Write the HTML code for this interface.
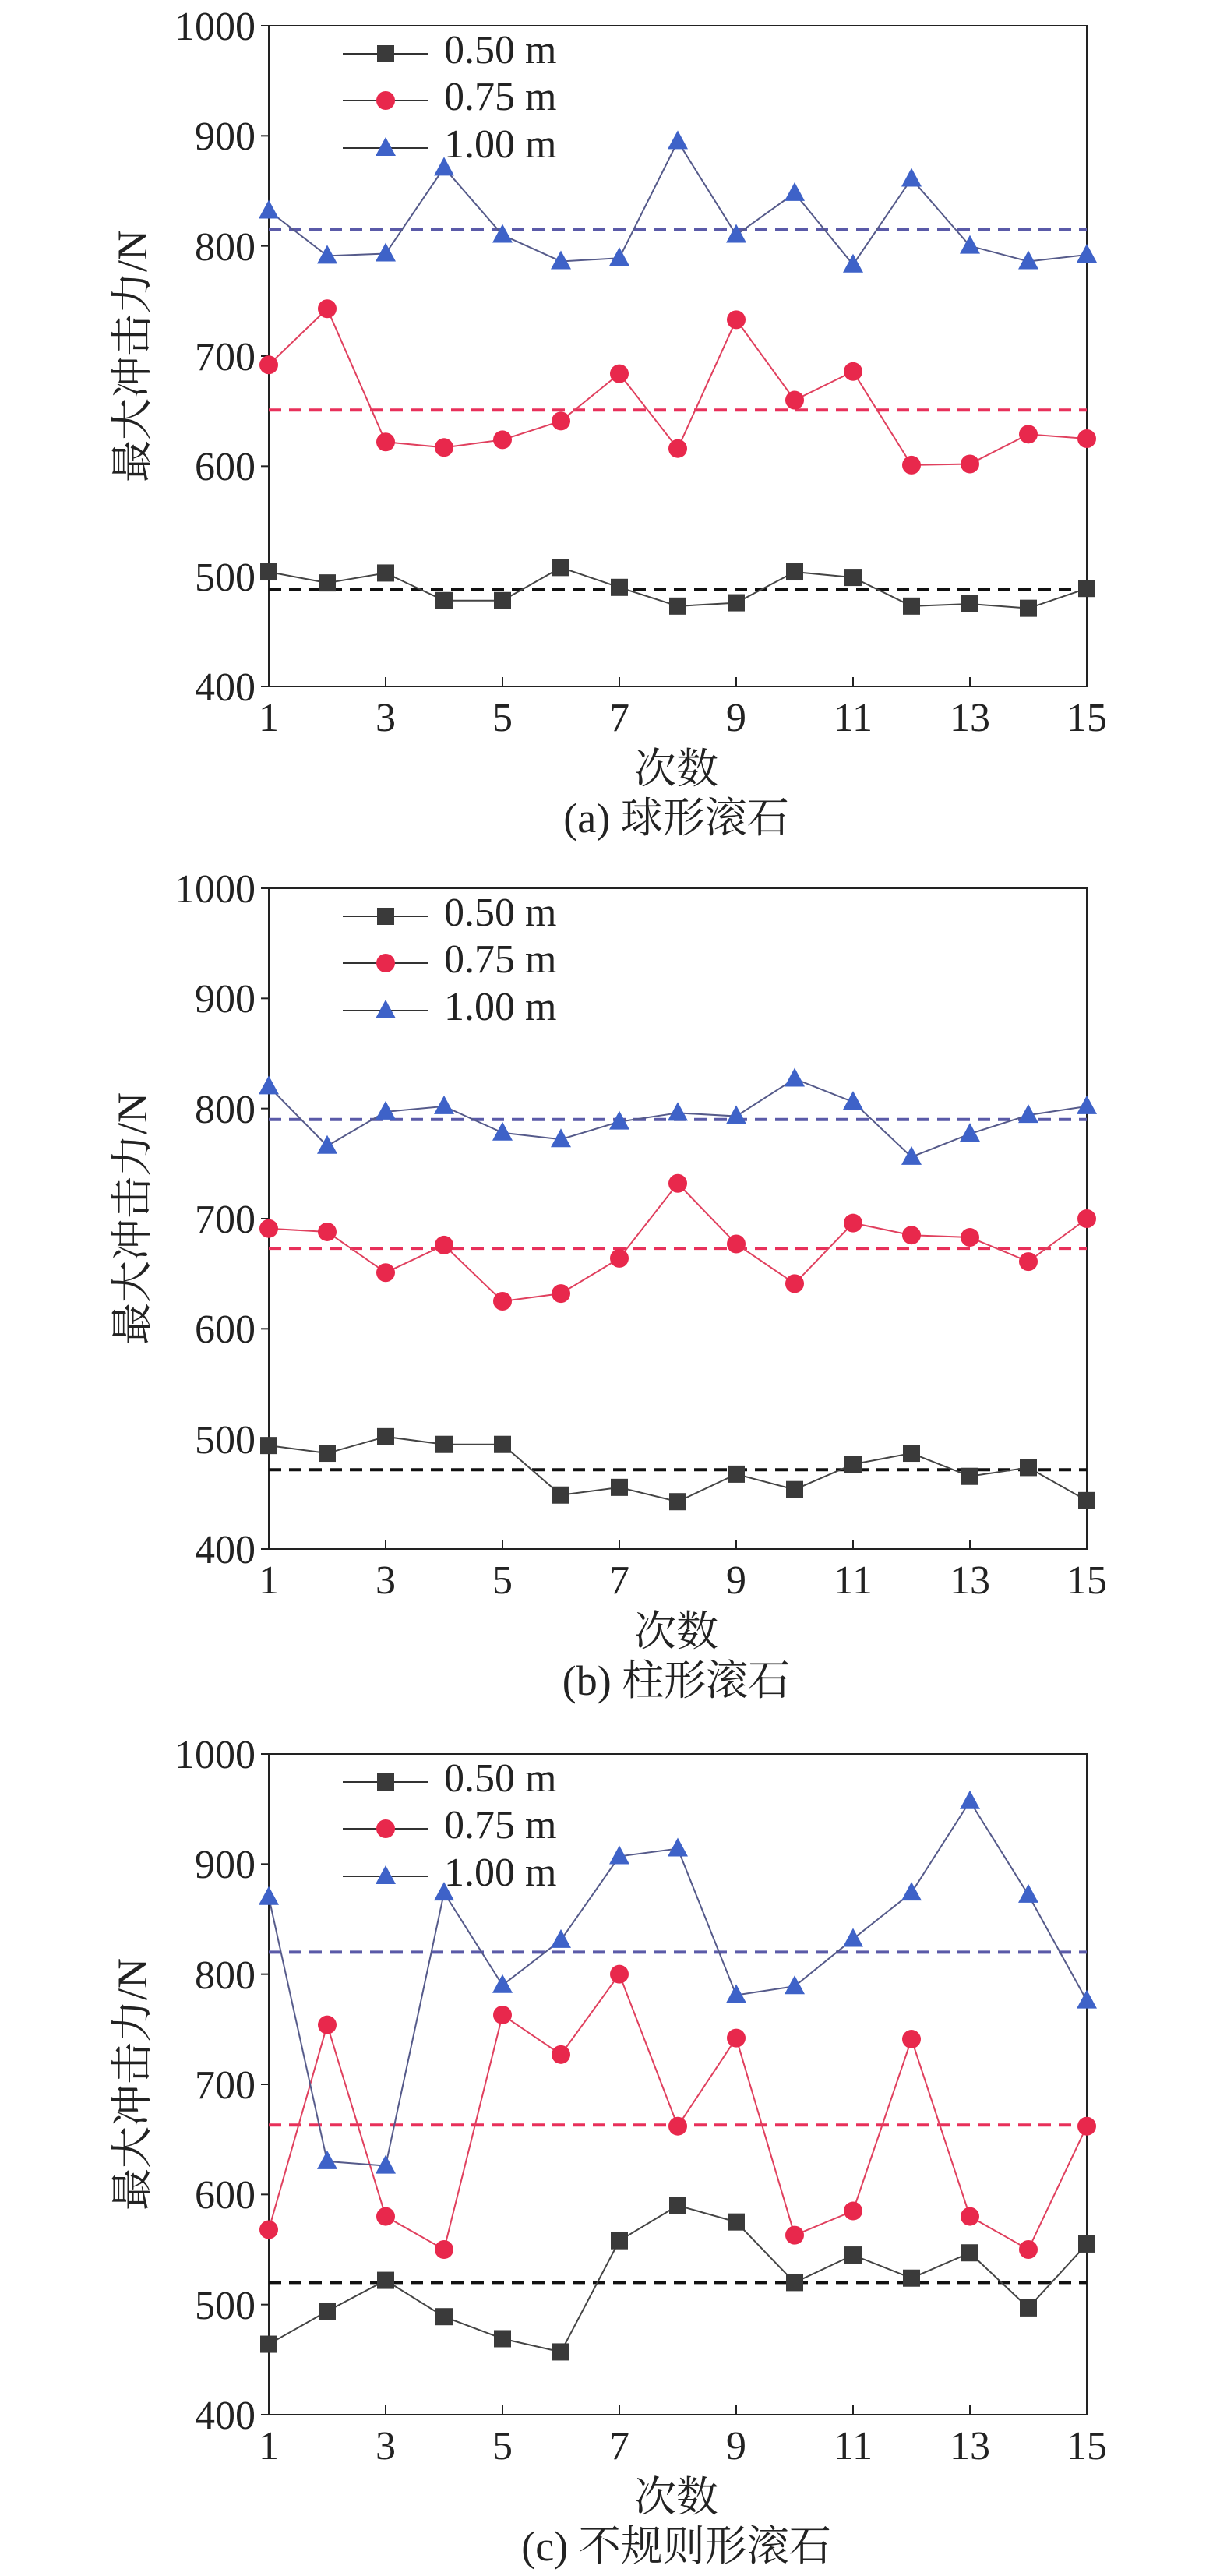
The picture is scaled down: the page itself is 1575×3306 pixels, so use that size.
<!DOCTYPE html>
<html><head><meta charset="utf-8"><style>
html,body{margin:0;padding:0;background:#fff;}
svg{display:block;}
text{font-family:"Liberation Serif","Noto Serif CJK SC",serif;fill:#222;}
</style></head><body>
<svg id="s" width="1575" height="3306" viewBox="0 0 1575 3306" xmlns="http://www.w3.org/2000/svg">
<g font-size="52">
<!-- panel a text -->
<g text-anchor="end">
<text x="328" y="51">1000</text><text x="328" y="192">900</text><text x="328" y="334">800</text><text x="328" y="475">700</text><text x="328" y="616">600</text><text x="328" y="758">500</text><text x="328" y="899">400</text>
<text x="328" y="1158">1000</text><text x="328" y="1299">900</text><text x="328" y="1441">800</text><text x="328" y="1582">700</text><text x="328" y="1723">600</text><text x="328" y="1865">500</text><text x="328" y="2006">400</text>
<text x="328" y="2269">1000</text><text x="328" y="2410">900</text><text x="328" y="2552">800</text><text x="328" y="2693">700</text><text x="328" y="2834">600</text><text x="328" y="2976">500</text><text x="328" y="3117">400</text>
</g>
<g text-anchor="middle">
<text x="345" y="938">1</text><text x="495" y="938">3</text><text x="645" y="938">5</text><text x="795" y="938">7</text><text x="945" y="938">9</text><text x="1095" y="938">11</text><text x="1245" y="938">13</text><text x="1395" y="938">15</text>
<text x="345" y="2045">1</text><text x="495" y="2045">3</text><text x="645" y="2045">5</text><text x="795" y="2045">7</text><text x="945" y="2045">9</text><text x="1095" y="2045">11</text><text x="1245" y="2045">13</text><text x="1395" y="2045">15</text>
<text x="345" y="3156">1</text><text x="495" y="3156">3</text><text x="645" y="3156">5</text><text x="795" y="3156">7</text><text x="945" y="3156">9</text><text x="1095" y="3156">11</text><text x="1245" y="3156">13</text><text x="1395" y="3156">15</text>
<text x="868" y="1005" font-size="54">次数</text>
<text x="868" y="1068" font-size="54">(a) 球形滚石</text>
<text x="868" y="2112" font-size="54">次数</text>
<text x="868" y="2175" font-size="54">(b) 柱形滚石</text>
<text x="868" y="3223" font-size="54">次数</text>
<text x="868" y="3286" font-size="54">(c) 不规则形滚石</text>
<text transform="translate(188,457) rotate(-90)" font-size="54">最大冲击力/N</text>
<text transform="translate(188,1564) rotate(-90)" font-size="54">最大冲击力/N</text>
<text transform="translate(188,2675) rotate(-90)" font-size="54">最大冲击力/N</text>
</g>
<g>
<text x="570" y="81">0.50 m</text><text x="570" y="141">0.75 m</text><text x="570" y="202">1.00 m</text>
<text x="570" y="1188">0.50 m</text><text x="570" y="1248">0.75 m</text><text x="570" y="1309">1.00 m</text>
<text x="570" y="2299">0.50 m</text><text x="570" y="2359">0.75 m</text><text x="570" y="2420">1.00 m</text>
</g>
</g>
<g id="dyn"></g>
</svg>
<script>
var NS="http://www.w3.org/2000/svg",g=document.getElementById("dyn");
function el(t,a){var e=document.createElementNS(NS,t);for(var k in a)e.setAttribute(k,a[k]);g.appendChild(e);return e;}
function sq(x,y){el("rect",{x:x-11,y:y-11,width:22,height:22,fill:"#3a3a3a"});}
function ci(x,y){el("circle",{cx:x,cy:y,r:12,fill:"#e8284c"});}
function tr(x,y){el("polygon",{points:(x)+","+(y-14)+" "+(x-13)+","+(y+10)+" "+(x+13)+","+(y+10),fill:"#3e62c8"});}
var panels=[
{T:33,d:[[504,494,503,478,478,508,490,473,476,504,499,473,475,471,489],[692,743,622,617,624,641,684,616,733,660,686,601,602,629,625],[832,791,793,871,810,786,789,895,810,848,783,861,800,786,792]],m:[488,651,815]},
{T:1140,d:[[494,487,502,495,495,449,456,443,468,454,477,487,466,474,444],[691,688,651,676,625,632,664,732,677,641,696,685,683,661,700],[820,766,797,802,778,772,788,796,793,827,806,756,777,794,802]],m:[472,673,790]},
{T:2251,d:[[464,494,522,489,469,457,558,590,575,520,545,524,547,497,555],[568,754,580,550,763,727,800,662,742,563,585,741,580,550,662],[870,630,626,874,790,831,907,914,781,789,832,874,957,872,776]],m:[520,663,820]}];
var lc=["#444","#e0405e","#555a8a"],dc=["#111","#e8305a","#5a5aa8"],mk=[sq,ci,tr];
panels.forEach(function(p){
 var T=p.T;function Y(v){return T+(1000-v)*848/600;}function X(i){return 345+75*i;}
 el("rect",{x:345,y:T,width:1050,height:848,fill:"none",stroke:"#222","stroke-width":2});
 for(var v=400;v<=1000;v+=100)el("line",{x1:335,x2:345,y1:Y(v),y2:Y(v),stroke:"#222","stroke-width":2});
 for(var i=0;i<15;i+=2)el("line",{x1:X(i),x2:X(i),y1:T+848,y2:T+836,stroke:"#222","stroke-width":2});
 for(var s=0;s<3;s++){
  el("line",{x1:345,x2:1395,y1:Y(p.m[s]),y2:Y(p.m[s]),stroke:dc[s],"stroke-width":4,"stroke-dasharray":"16,10"});
  var pts=p.d[s].map(function(v,i){return X(i)+","+Y(v);}).join(" ");
  el("polyline",{points:pts,fill:"none",stroke:lc[s],"stroke-width":2});
  p.d[s].forEach(function(v,i){mk[s](X(i),Y(v));});
  var ly=T+[36,96,157][s];
  el("line",{x1:440,x2:550,y1:ly,y2:ly,stroke:"#333","stroke-width":2});
  mk[s](495,ly);
 }
});
</script>
</body></html>
